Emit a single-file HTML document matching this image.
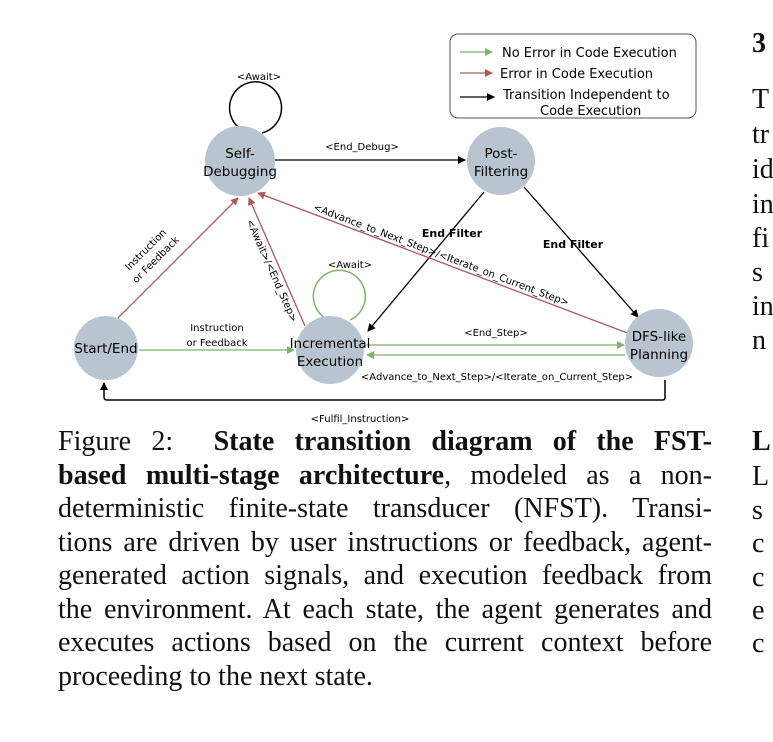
<!DOCTYPE html>
<html><head><meta charset="utf-8"><style>
body{margin:0;background:#fff;width:773px;height:742px;overflow:hidden;position:relative}
svg{position:absolute;left:0;top:0}
.cap{position:absolute;left:58px;top:425px;width:654px;font-family:"Liberation Serif",serif;font-size:28px;line-height:33.5px;color:#111}
.cap div{text-align:justify;text-align-last:justify;white-space:nowrap}
.cap div.l{text-align-last:left}
.rc{position:absolute;left:752px;font-family:"Liberation Serif",serif;font-size:28px;color:#111;white-space:nowrap}
</style></head><body>
<svg width="773" height="742" font-family="DejaVu Sans, Liberation Sans, sans-serif">
<defs>
<marker id="ak" markerWidth="8" markerHeight="8" refX="7" refY="4" orient="auto" markerUnits="userSpaceOnUse"><path d="M0,0 L8,4 L0,8 Z" fill="#000"/></marker>
<marker id="ag" markerWidth="8" markerHeight="8" refX="7" refY="4" orient="auto" markerUnits="userSpaceOnUse"><path d="M0,0 L8,4 L0,8 Z" fill="#7fb26a"/></marker>
<marker id="ar" markerWidth="8" markerHeight="8" refX="7" refY="4" orient="auto" markerUnits="userSpaceOnUse"><path d="M0,0 L8,4 L0,8 Z" fill="#b0595a"/></marker>
</defs>
<rect x="450" y="34" width="246" height="84" rx="8" fill="#fff" stroke="#555" stroke-width="1"/>
<line x1="460" y1="52" x2="492" y2="52" stroke="#7fb26a" stroke-width="1.3" marker-end="url(#ag)"/>
<line x1="460" y1="73" x2="492" y2="73" stroke="#b0595a" stroke-width="1.3" marker-end="url(#ar)"/>
<line x1="460" y1="97" x2="494" y2="97" stroke="#000" stroke-width="1.3" marker-end="url(#ak)"/>
<g font-size="13" fill="#000">
<text x="502" y="57">No Error in Code Execution</text>
<text x="500" y="78">Error in Code Execution</text>
<text x="503" y="99">Transition Independent to</text>
<text x="540" y="115">Code Execution</text>
</g>
<path d="M238,127 A26,26 0 1 1 262,133" fill="none" stroke="#000" stroke-width="1.5" marker-start="url(#ak)"/>
<line x1="275" y1="160" x2="465" y2="160" stroke="#000" stroke-width="1.3" marker-end="url(#ak)"/>
<line x1="484" y1="192" x2="368" y2="331" stroke="#000" stroke-width="1.3" marker-end="url(#ak)"/>
<line x1="524" y1="187" x2="638" y2="317" stroke="#000" stroke-width="1.3" marker-end="url(#ak)"/>
<line x1="118" y1="318" x2="238" y2="198" stroke="#b0595a" stroke-width="1.3" marker-end="url(#ar)"/>
<line x1="305" y1="326" x2="249" y2="198" stroke="#b0595a" stroke-width="1.3" marker-end="url(#ar)"/>
<line x1="630" y1="334" x2="258" y2="193" stroke="#b0595a" stroke-width="1.3" marker-end="url(#ar)"/>
<line x1="139" y1="350" x2="294" y2="350" stroke="#7fb26a" stroke-width="1.3" marker-end="url(#ag)"/>
<line x1="366" y1="345" x2="624" y2="345" stroke="#7fb26a" stroke-width="1.3" marker-end="url(#ag)"/>
<line x1="625" y1="355" x2="367" y2="355" stroke="#7fb26a" stroke-width="1.3" marker-end="url(#ag)"/>
<path d="M325,318 A26,26 0 1 1 350,320" fill="none" stroke="#7fb26a" stroke-width="1.5" marker-start="url(#ag)"/>
<path d="M665,380 L665,398 Q665,400 662,400 L107,400 Q104,400 104,397 L104,383" fill="none" stroke="#000" stroke-width="1.5" marker-end="url(#ak)"/>
<g fill="#b8c4d0">
<circle cx="240" cy="161" r="35"/><circle cx="501" cy="161" r="34"/>
<circle cx="106" cy="348" r="32"/><circle cx="330" cy="350" r="34"/><circle cx="659" cy="343" r="34"/>
</g>
<g font-size="13.5" fill="#000" text-anchor="middle">
<text x="240" y="158">Self-</text><text x="240" y="176">Debugging</text>
<text x="501" y="158">Post-</text><text x="501" y="176">Filtering</text>
<text x="106" y="353">Start/End</text>
<text x="330" y="348">Incremental</text><text x="330" y="366">Execution</text>
<text x="659" y="341">DFS-like</text><text x="659" y="359">Planning</text>
</g>
<g font-size="10" fill="#000" text-anchor="middle">
<text x="259" y="80">&lt;Await&gt;</text>
<text x="362" y="150">&lt;End_Debug&gt;</text>
<text x="350" y="268">&lt;Await&gt;</text>
<text x="217" y="331">Instruction</text><text x="217" y="346">or Feedback</text>
<text x="496" y="336">&lt;End_Step&gt;</text>
<text x="497" y="380">&lt;Advance_to_Next_Step&gt;/&lt;Iterate_on_Current_Step&gt;</text>
<text x="360" y="422">&lt;Fulfil_Instruction&gt;</text>
<text transform="translate(148,252) rotate(-45)">Instruction</text>
<text transform="translate(158,262) rotate(-45)">or Feedback</text>
<text transform="translate(269,272) rotate(66)">&lt;Await&gt;/&lt;End_Step&gt;</text>
<text transform="translate(440,258) rotate(20.7)">&lt;Advance_to_Next_Step&gt;/&lt;Iterate_on_Current_Step&gt;</text>
</g>
<g font-size="11" font-weight="bold" fill="#000" text-anchor="middle">
<text x="452" y="237">End Filter</text><text x="573" y="248">End Filter</text>
</g>
</svg>
<div class="cap">
<div>Figure 2:&nbsp; <b>State transition diagram of the FST-</b></div>
<div><b>based multi-stage architecture</b>, modeled as a non-</div>
<div>deterministic finite-state transducer (NFST). Transi-</div>
<div>tions are driven by user instructions or feedback, agent-</div>
<div>generated action signals, and execution feedback from</div>
<div>the environment. At each state, the agent generates and</div>
<div>executes actions based on the current context before</div>
<div class="l">proceeding to the next state.</div>
</div>
<div class="rc" style="top:28px;font-weight:bold">3</div>
<div class="rc" style="top:84px">T</div>
<div class="rc" style="top:119px">tr</div>
<div class="rc" style="top:154px">id</div>
<div class="rc" style="top:189px">in</div>
<div class="rc" style="top:223px">fi</div>
<div class="rc" style="top:257px">s</div>
<div class="rc" style="top:291px">in</div>
<div class="rc" style="top:325px">n</div>
<div class="rc" style="top:426px;font-weight:bold">L</div>
<div class="rc" style="top:461px">L</div>
<div class="rc" style="top:495px">s</div>
<div class="rc" style="top:528px">c</div>
<div class="rc" style="top:562px">c</div>
<div class="rc" style="top:595px">e</div>
<div class="rc" style="top:628px">c</div>
</body></html>
